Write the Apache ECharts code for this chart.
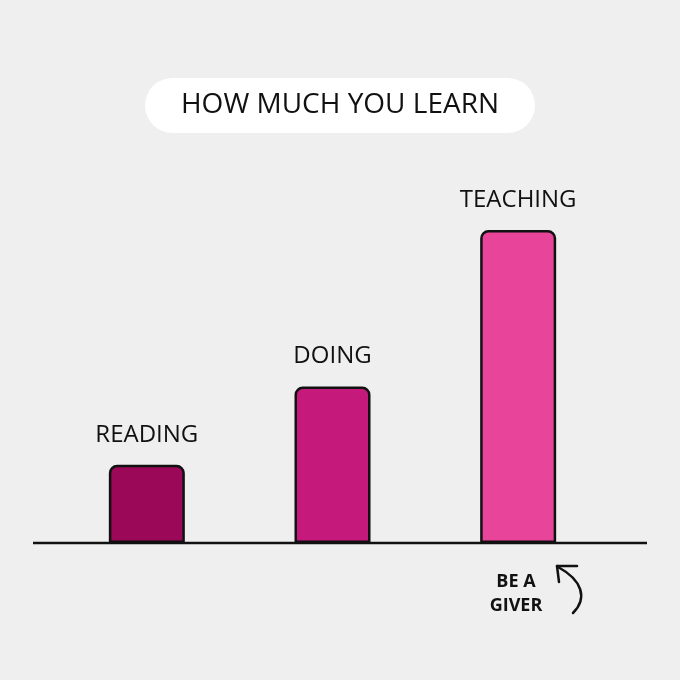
<!DOCTYPE html>
<html>
<head>
<meta charset="utf-8">
<script src="https://cdn.jsdelivr.net/npm/echarts@6/dist/echarts.min.js"></script>
<style>
html,body{margin:0;padding:0;background:#efefef;}
#c{width:680px;height:680px;}
</style>
</head>
<body>
<div id="c"></div>
<script>
const categories = ['READING', 'DOING', 'TEACHING'];
const values = [25, 50, 100];
const barColors = ['#9b0858', '#c51a7b', '#e8449a'];
const titleText = 'HOW MUCH YOU LEARN';
const noteLines = ['BE A', 'GIVER'];

const chart = echarts.init(document.getElementById('c'));
const font = '"Open Sans", "DejaVu Sans", sans-serif';
const ink = { stroke: '#111', lineWidth: 2.5, lineCap: 'round', fill: null };
chart.setOption({
  backgroundColor: '#efefef',
  animation: false,
  title: {
    text: titleText,
    left: 'center',
    top: 78,
    backgroundColor: '#ffffff',
    borderRadius: 28,
    padding: [12, 36, 12, 36],
    textStyle: { fontFamily: font, fontSize: 28, fontWeight: 500, color: '#111', lineHeight: 31 }
  },
  grid: { left: 54, right: 69, top: 230, bottom: 137 },
  xAxis: {
    type: 'category',
    data: categories,
    axisLine: { show: false },
    axisTick: { show: false },
    axisLabel: { show: false }
  },
  yAxis: { type: 'value', min: 0, max: 100, show: false },
  series: [{
    type: 'bar',
    barWidth: 76,
    data: values.map((v, i) => ({
      value: v,
      itemStyle: { color: barColors[i] }
    })),
    itemStyle: { borderColor: '#111', borderWidth: 2.5, borderRadius: [7, 7, 0, 0] },
    label: {
      show: true,
      position: 'top',
      distance: 18,
      formatter: p => categories[p.dataIndex],
      fontFamily: font,
      fontSize: 24,
      fontWeight: 500,
      color: '#111'
    }
  }],
  graphic: [
    { type: 'line', shape: { x1: 33, y1: 543, x2: 647, y2: 543 }, style: { stroke: '#111', lineWidth: 2.5 }, z: 10 },
    { type: 'text', x: 516, y: 582, style: { text: noteLines[0], font: 'bold 18px ' + font, fill: '#111', textAlign: 'center', textVerticalAlign: 'middle' } },
    { type: 'text', x: 516, y: 606, style: { text: noteLines[1], font: 'bold 18px ' + font, fill: '#111', textAlign: 'center', textVerticalAlign: 'middle' } },
    { type: 'bezierCurve', shape: { x1: 573, y1: 613, cpx1: 588, cpy1: 598, cpx2: 582, cpy2: 580, x2: 558, y2: 567 }, style: ink },
    { type: 'line', shape: { x1: 557, y1: 566, x2: 559, y2: 582 }, style: ink },
    { type: 'line', shape: { x1: 557, y1: 566, x2: 577, y2: 566 }, style: ink }
  ]
});
</script>
</body>
</html>
